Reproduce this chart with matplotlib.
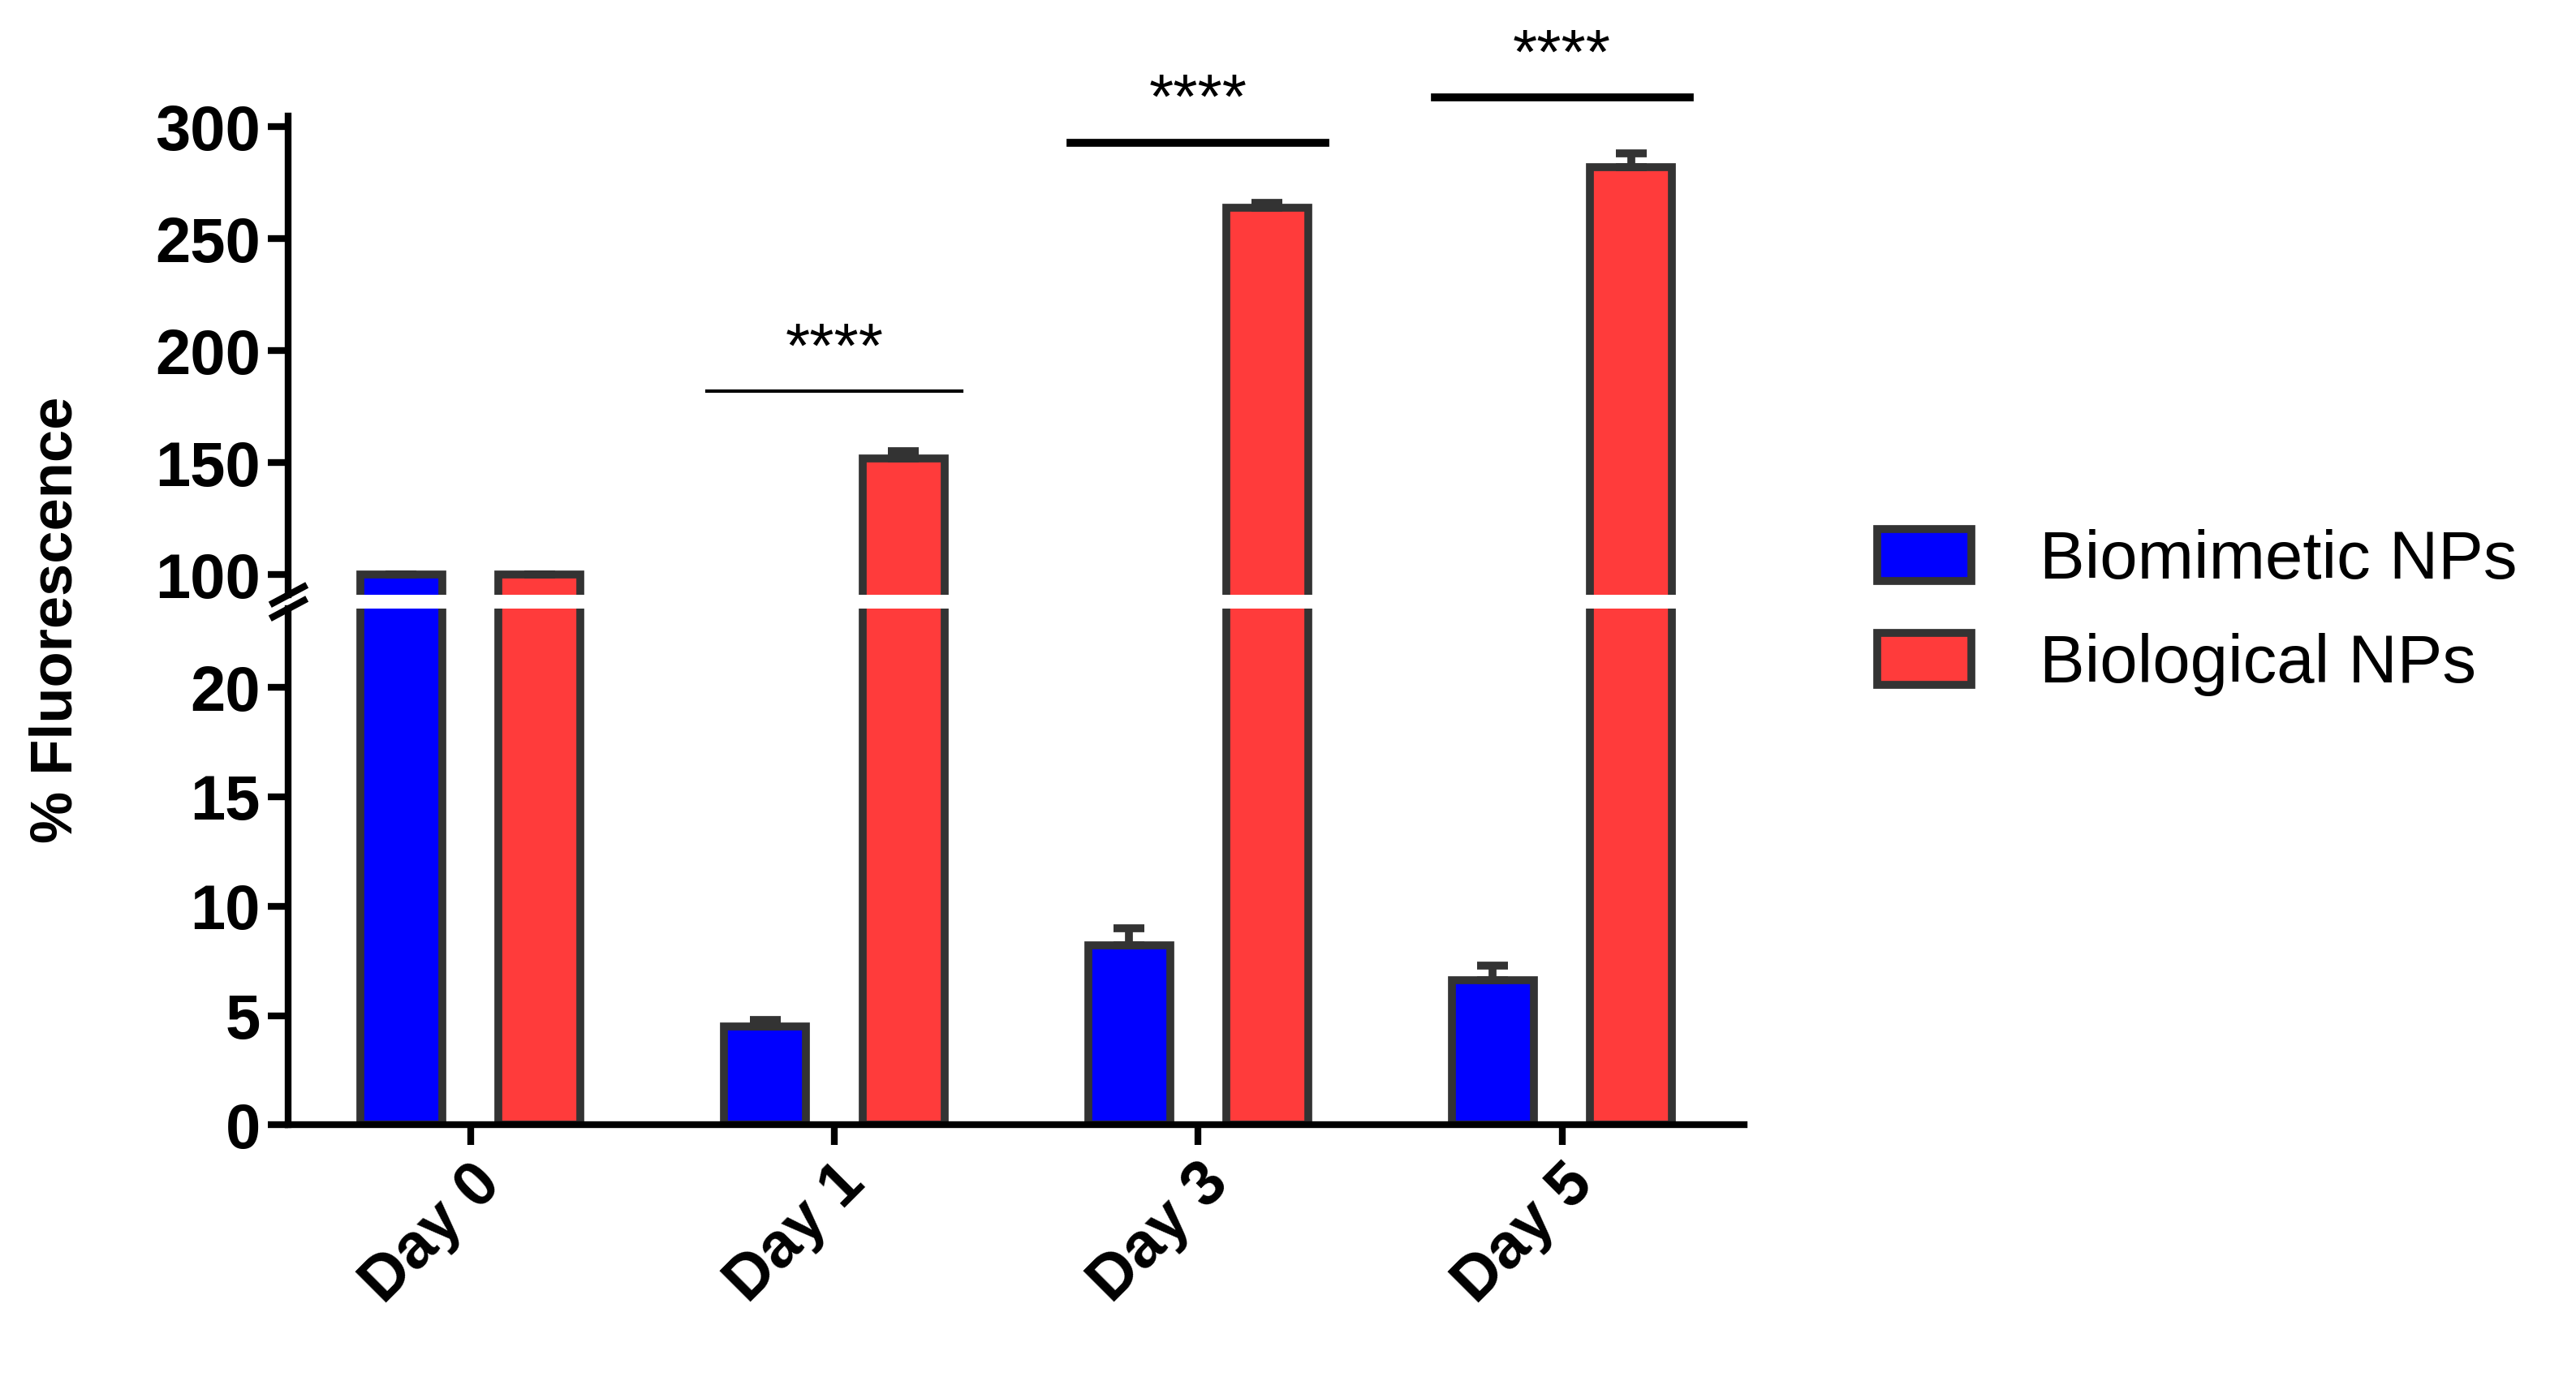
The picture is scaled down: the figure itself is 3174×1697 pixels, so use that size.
import matplotlib
matplotlib.use("Agg")
import matplotlib.pyplot as plt
import numpy as np
from matplotlib.patches import Patch

plt.rcParams['font.family'] = ['Liberation Sans', 'DejaVu Sans']

days = ["Day 0", "Day 1", "Day 3", "Day 5"]
biomimetic = [100, 4.5, 8.2, 6.6]
biomimetic_err = [0, 0.3, 0.8, 0.7]
biological = [100, 152, 264, 282]
biological_err = [0, 3, 2, 6]
sig_labels = ["", "****", "****", "****"]
sig_heights = [None, 182, 293, 313]

fig = plt.figure(figsize=(15.87, 8.485), dpi=200)
ax_top = fig.add_axes([0.112, 0.568, 0.565, 0.348])
ax_bot = fig.add_axes([0.112, 0.183, 0.565, 0.375])

x = np.arange(len(days))
w = 0.225
off = 0.19
edge = '#333333'
for ax in (ax_top, ax_bot):
    ax.bar(x - off, biomimetic, w, color='#0000FF', edgecolor=edge, linewidth=3.5,
           yerr=[np.zeros(4), biomimetic_err],
           error_kw=dict(ecolor=edge, elinewidth=3.5, capsize=7, capthick=3.5))
    ax.bar(x + off, biological, w, color='#FF3B3B', edgecolor=edge, linewidth=3.5,
           yerr=[np.zeros(4), biological_err],
           error_kw=dict(ecolor=edge, elinewidth=3.5, capsize=7, capthick=3.5))
    ax.set_xlim(-0.5, 3.5)
    for s in ['top', 'right']:
        ax.spines[s].set_visible(False)
    ax.spines['left'].set_linewidth(3)
    ax.tick_params(axis='both', width=3, length=9, labelsize=28)

ax_top.set_ylim(91, 305)
ax_top.set_yticks([100, 150, 200, 250, 300])
ax_top.spines['bottom'].set_visible(False)
ax_top.tick_params(axis='x', bottom=False, labelbottom=False)
ax_bot.set_ylim(0, 23.6)
ax_bot.set_yticks([0, 5, 10, 15, 20])
ax_bot.spines['bottom'].set_linewidth(3)
ax_bot.set_xticks(x)
ax_bot.set_xticklabels(days, rotation=45, ha='right', rotation_mode='anchor',
                       fontsize=28, fontweight='bold')
for ax in (ax_top, ax_bot):
    for lab in ax.get_yticklabels():
        lab.set_fontweight('bold')

kw = dict(transform=fig.transFigure, color='black', lw=3, clip_on=False)
for yy in (0.558, 0.568):
    fig.add_artist(plt.Line2D([0.106, 0.118], [yy - 0.006, yy + 0.006], **kw))

fig.text(0.022, 0.55, "% Fluorescence", rotation=90, va='center', ha='center',
         fontsize=26, fontweight='bold')

for i in range(len(days)):
    if sig_heights[i] is None:
        continue
    lw = 1.5 if i == 1 else 3.5
    ax_top.plot([x[i] - 0.35, x[i] + 0.35], [sig_heights[i]] * 2, color='black', lw=lw, clip_on=False)
    ax_top.text(x[i], sig_heights[i] + 5, sig_labels[i], ha='center', va='bottom',
                fontsize=28, clip_on=False)

handles = [Patch(facecolor='#0000FF', edgecolor=edge, linewidth=3.5, label='Biomimetic NPs'),
           Patch(facecolor='#FF3B3B', edgecolor=edge, linewidth=3.5, label='Biological NPs')]
fig.legend(handles=handles, loc='center left', bbox_to_anchor=(0.705, 0.555), frameon=False,
           fontsize=30, handlelength=1.4, handleheight=0.8, labelspacing=0.6, handletextpad=1.0)

fig.savefig("out.png", dpi=200)
